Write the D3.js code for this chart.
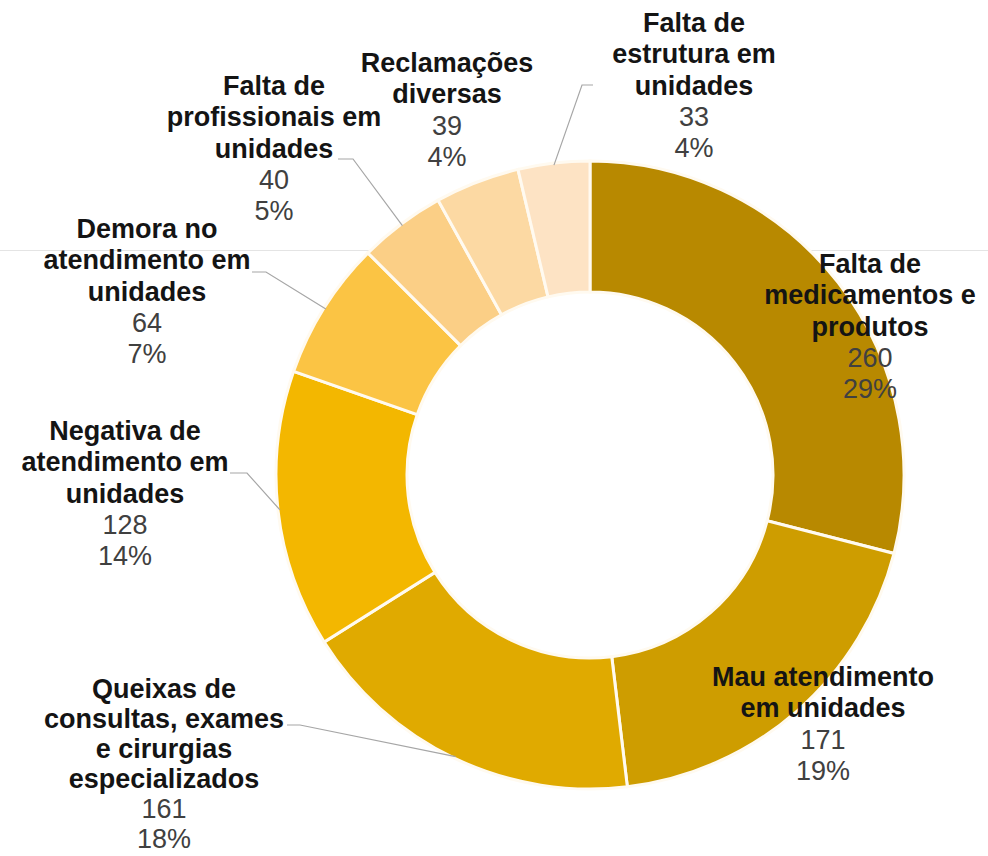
<!DOCTYPE html>
<html><head><meta charset="utf-8">
<script src="https://cdn.jsdelivr.net/npm/d3@7"></script>
<style>html,body{margin:0;padding:0;background:#fff}svg{display:block}</style>
</head><body>
<svg id="chart" width="988" height="856"></svg>
<script>
const categories = [
  ["Falta de","medicamentos e","produtos"],
  ["Mau atendimento","em unidades"],
  ["Queixas de","consultas, exames","e cirurgias","especializados"],
  ["Negativa de","atendimento em","unidades"],
  ["Demora no","atendimento em","unidades"],
  ["Falta de","profissionais em","unidades"],
  ["Reclamações","diversas"],
  ["Falta de","estrutura em","unidades"]
];
const values = [260, 171, 161, 128, 64, 40, 39, 33];
const percentLabels = ["29%","19%","18%","14%","7%","5%","4%","4%"];
const colors = ["#B88900","#CE9D00","#E0AA00","#F3B700","#FBC444","#FBCF86","#FCD9A3","#FDE3C4"];

// layout (label anchors as first-line baselines & leader elbows)
const labelPos = [
  {x:870,y:273,lh:31.25},{x:823,y:686,lh:31.25},{x:164,y:698,lh:30},{x:125,y:440,lh:31.25},
  {x:147,y:238,lh:31.25},{x:274,y:95,lh:31.25},{x:447,y:72,lh:31.25},{x:694,y:32,lh:31.25}
];
const leaders = {
  2:[[287,725],[300,725]],
  3:[[230,473],[247,473]],
  4:[[252,272],[266,272]],
  5:[[338,159],[353,159]],
  7:[[593,85],[582,85]]
};

const svg = d3.select("#chart");
const cx = 590, cy = 475, rOuter = 314, rInner = 183;

svg.append("line").attr("x1",0).attr("x2",988).attr("y1",250.5).attr("y2",250.5)
  .attr("stroke","#e4e4e4").attr("stroke-width",1);

const pie = d3.pie().sort(null).value(d=>d);
const arcs = pie(values);
const arc = d3.arc().innerRadius(rInner).outerRadius(rOuter);
const g = svg.append("g").attr("transform",`translate(${cx},${cy})`);
g.selectAll("path").data(arcs).join("path")
  .attr("d",arc).attr("fill",(d,i)=>colors[i])
  .attr("stroke","#fffaf0").attr("stroke-width",3);

// leader lines
Object.keys(leaders).forEach(k=>{
  const i = +k;
  const a = (arcs[i].startAngle+arcs[i].endAngle)/2;
  const p = [cx + (rOuter-2)*Math.sin(a), cy - (rOuter-2)*Math.cos(a)];
  const pts = leaders[k].concat([p]);
  svg.append("path").attr("d", d3.line()(pts))
    .attr("fill","none").attr("stroke","#a6a6a6").attr("stroke-width",1.2);
});

categories.forEach((lines,i)=>{
  const L = labelPos[i];
  const t = svg.append("text").attr("text-anchor","middle")
    .attr("font-family","'Liberation Sans', Arial, sans-serif").attr("font-size",27);
  const all = lines.map(s=>({s,b:true})).concat([{s:String(values[i]),b:false},{s:percentLabels[i],b:false}]);
  all.forEach((o,j)=>{
    t.append("tspan").attr("x",L.x).attr("y",L.y + j*L.lh)
      .attr("font-weight",o.b?"bold":"normal")
      .attr("fill",o.b?"#141414":"#404040")
      .text(o.s);
  });
});
</script>
</body></html>
